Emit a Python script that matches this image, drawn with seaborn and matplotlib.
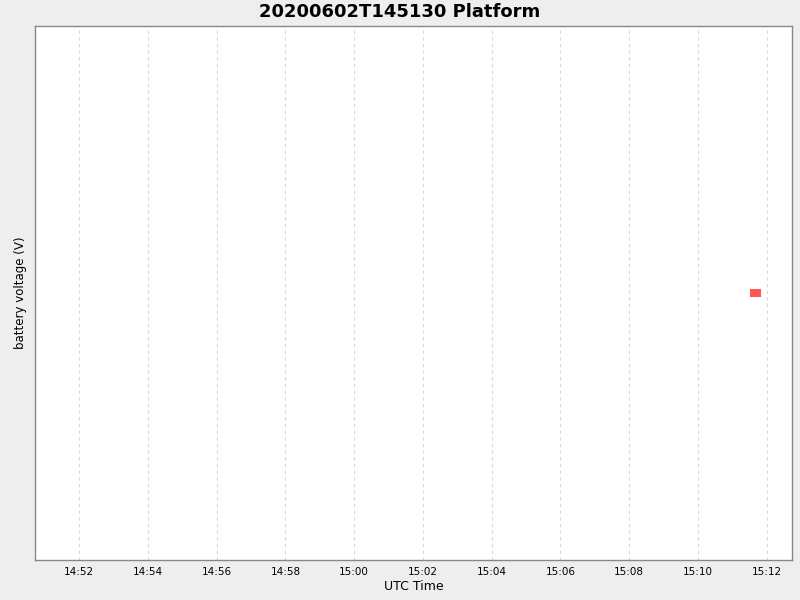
import matplotlib
matplotlib.use("Agg")
import matplotlib.pyplot as plt
import matplotlib.dates as mdates
import seaborn as sns
import pandas as pd

# data
times = ["2020-06-02 15:11:37", "2020-06-02 15:11:40", "2020-06-02 15:11:43"]
voltage = [12.5, 12.5, 12.5]
x_start = "2020-06-02 14:50:43"
x_end = "2020-06-02 15:12:44"

df = pd.DataFrame({"time": pd.to_datetime(times), "voltage": voltage})

sns.set_theme(style="white")
plt.rcParams["font.family"] = ["DejaVu Sans"]
plt.rcParams["text.color"] = "black"
plt.rcParams["axes.labelcolor"] = "black"
plt.rcParams["xtick.color"] = "black"

fig = plt.figure(figsize=(8, 6), dpi=100, facecolor="#eeeeee")
ax = fig.add_axes([35 / 800, 1 - 560 / 600, (792 - 35) / 800, (560 - 26) / 600])
ax.set_facecolor("white")

sns.scatterplot(data=df, x="time", y="voltage", marker="s", s=28, color="#ff5555",
                edgecolor="none", ax=ax, legend=False)

ax.set_xlim(pd.Timestamp(x_start), pd.Timestamp(x_end))
ax.set_ylim(12.0, 13.0)
ax.xaxis.set_major_locator(mdates.MinuteLocator(byminute=range(0, 60, 2)))
ax.xaxis.set_major_formatter(mdates.DateFormatter("%H:%M"))
ax.set_yticks([])
ax.grid(axis="x", color="#d8d8d8", linestyle=(0, (3, 3)), linewidth=0.8)
ax.tick_params(axis="x", length=2, color="#888888", labelcolor="black", labelsize=7.5, pad=3)
for s in ax.spines.values():
    s.set_color("#888888")
    s.set_linewidth(1.0)

ax.set_xlabel("UTC Time", fontsize=9, labelpad=2, color="black")
ax.set_ylabel("battery voltage (V)", fontsize=8.5, labelpad=6, color="black")
fig.suptitle("20200602T145130 Platform", fontsize=13, fontweight="bold", y=0.995, color="black")

fig.savefig("out.png", dpi=100, facecolor=fig.get_facecolor())
